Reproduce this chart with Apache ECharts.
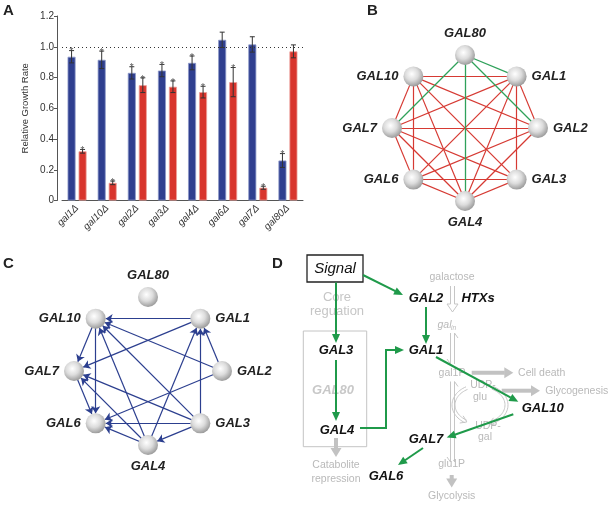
<!DOCTYPE html>
<html><head><meta charset="utf-8">
<script src="https://cdn.jsdelivr.net/npm/echarts@6/dist/echarts.min.js"></script>
<style>html,body{margin:0;padding:0;background:#fff}#c{width:611px;height:505px}</style>
</head><body><div id="c"></div>
<script>
// ================= Panel A data =================
const strains = ['gal1Δ','gal10Δ','gal2Δ','gal3Δ','gal4Δ','gal6Δ','gal7Δ','gal80Δ'];
const blueRates  = [0.935,0.915,0.83,0.845,0.895,1.045,1.015,0.26];
const blueErrors = [0.04,0.057,0.04,0.04,0.045,0.05,0.05,0.045];
const blueSignif = [1,1,1,1,1,0,0,1];
const redRates   = [0.32,0.115,0.75,0.74,0.705,0.77,0.083,0.97];
const redErrors  = [0.012,0.012,0.048,0.038,0.038,0.095,0.01,0.042];
const redSignif  = [1,1,1,1,1,1,1,0];
const yTickLabels = ['0','0.2','0.4','0.6','0.8','1.0','1.2'];
const referenceLevel = 1.0;

// ================= Panels B & C networks =================
const ringOrder = ['GAL80','GAL1','GAL2','GAL3','GAL4','GAL6','GAL7','GAL10'];
const coexpLinks = [
  ['GAL10','GAL1'],['GAL10','GAL7'],['GAL10','GAL6'],['GAL10','GAL4'],['GAL10','GAL3'],['GAL10','GAL2'],
  ['GAL1','GAL2'],['GAL1','GAL3'],['GAL1','GAL4'],['GAL1','GAL6'],['GAL1','GAL7'],
  ['GAL7','GAL2'],['GAL7','GAL6'],['GAL7','GAL4'],['GAL7','GAL3'],
  ['GAL2','GAL6'],['GAL2','GAL4'],
  ['GAL6','GAL3'],['GAL6','GAL4'],['GAL3','GAL4']
];
const gal80Links = [['GAL80','GAL1'],['GAL80','GAL2'],['GAL80','GAL7'],['GAL80','GAL4']];
const regulatoryLinks = [
  ['GAL1','GAL10'],['GAL1','GAL7'],['GAL2','GAL10'],['GAL2','GAL1'],['GAL2','GAL6'],
  ['GAL3','GAL10'],['GAL3','GAL1'],['GAL3','GAL7'],['GAL3','GAL6'],['GAL3','GAL4'],
  ['GAL4','GAL10'],['GAL4','GAL1'],['GAL4','GAL7'],['GAL4','GAL6'],
  ['GAL10','GAL7'],['GAL10','GAL6'],['GAL7','GAL6']
];

// ================= Panel D pathway (diagram text and layout) =================
const pathwayTexts = ['Signal','Core','reguation','GAL3','GAL80','GAL4','Catabolite','repression',
  'galactose','GAL2','HTXs','gal','in','GAL1','gal1P','Cell death','UDP-','glu','Glycogenesis',
  'GAL10','UDP-','gal','GAL7','glu1P','GAL6','Glycolysis'];
const pathwayTextKinds = ['signal','core','core','gene','geneGray','gene','gray','gray',
  'gray','gene','gene','grayItalic','sub','gene','gray','gray','gray','gray','gray',
  'gene','gray','gray','gene','gray','gene','gray'];
const pathwayTextLayout = [[35,19],[37,47],[37,61],[36,100],[33,140],[37,180],[36,215],[36,229],
  [152,27],[126,48],[178,48],[144.5,75],[153.5,78.5],[126,100],[152,122.7],[241.7,122.7],[183,135],[180,147.5],[276.7,140.7],
  [242.7,158],[188,176.5],[185,187],[126,189],[151.7,214.3],[86,226],[151.7,246]];
const greenArrowLayout = [
  [[36,32.5],[36,93]], [[36,110],[36,171]], [[63,25],[103,45]], [[126,57],[126,94]],
  [[60,178],[86,178],[86,100],[104,100]],
  [[136,107],[218.3,151.7]], [[213.3,164.3],[146.7,187.5]], [[123,198],[98,215]]
];
const grayArrowLayout = [
  [[171.7,122.7],[213.3,122.7]], [[201.7,140.7],[240,140.7]], [[36,188],[36,207]], [[151.7,225],[151.7,237.5]]
];
const hollowArrowLayout = [ // [x, y1, y2, kind]
  [152.5,36,62,'down'], [152.5,83,114,'both'], [152.5,131.5,212,'both']
];
const boxLayout = [ // [x1,y1,x2,y2,kind]
  [3.3,81,66.7,196.7,'gray'], [7,5,63,32,'black']
];
const cycleLayout = {cx:180, cy:155, rx:28, ry:21};

// ================= styles =================
const FONT = 'Liberation Sans, Arial, sans-serif';
const BLUE = '#2f3f8f', RED = '#d8352d', GREEN = '#1f9a4a', GRAYTXT = '#b9b9b9';
const sphere = {type:'radial', x:0.42, y:0.38, r:0.72, colorStops:[
  {offset:0,color:'#ffffff'},{offset:0.45,color:'#dcdcdc'},{offset:1,color:'#878787'}]};
const labelSide = {GAL80:'top',GAL1:'right',GAL2:'right',GAL3:'right',GAL4:'bottom',GAL6:'left',GAL7:'left',GAL10:'left'};

const BAR_W = 8, BAR_GAP = 3;
const shiftB = -(BAR_W + BAR_GAP) / 2, shiftR = (BAR_W + BAR_GAP) / 2;

function errorSeries(values, errors, signif, shift) {
  return {
    type:'custom', xAxisIndex:0, yAxisIndex:0, z:5, silent:true,
    data: values.map((v,i)=>[i, v, errors[i], signif[i]]),
    renderItem(params, api) {
      const i = api.value(0), v = api.value(1), e = api.value(2), s = api.value(3);
      const top = api.coord([i, v + e]), bot = api.coord([i, v - e]);
      const x = top[0] + shift;
      const st = {stroke:'#333', lineWidth:1};
      const ch = [
        {type:'line', shape:{x1:x,y1:top[1],x2:x,y2:bot[1]}, style:st},
        {type:'line', shape:{x1:x-2.5,y1:top[1],x2:x+2.5,y2:top[1]}, style:st},
        {type:'line', shape:{x1:x-2.5,y1:bot[1],x2:x+2.5,y2:bot[1]}, style:st}
      ];
      if (s) ch.push({type:'text', style:{text:'*', x:x, y:top[1]+2, align:'center', verticalAlign:'middle',
        fill:'#555', fontSize:10, fontFamily:FONT}});
      return {type:'group', children:ch};
    }
  };
}

function ringSeries(polarIndex, linkSets, directed) {
  const links = [];
  linkSets.forEach(([list, color, width]) => list.forEach(([s,t]) =>
    links.push({source:s, target:t, lineStyle:{color:color, width:width}})));
  return {
    type:'graph', coordinateSystem:'polar', polarIndex:polarIndex, layout:'none',
    symbol:'circle', symbolSize:20, silent:true, animation:false,
    data: ringOrder.map((g,i)=>({name:g, value:[1,i], label:{position:labelSide[g]}})),
    links: links,
    edgeSymbol: directed ? ['none','arrow'] : ['none','none'],
    edgeSymbolSize: [0,7],
    itemStyle:{color:sphere},
    label:{show:true, formatter:'{b}', fontSize:13, fontWeight:'bold', fontStyle:'italic',
      color:'#222', fontFamily:FONT, distance:5},
    lineStyle:{opacity:1, curveness:0},
    emphasis:{disabled:true}
  };
}

function arrowShapes(pts, headLen, headW, color, width) {
  const n = pts.length;
  const [x1,y1] = pts[n-2], [x2,y2] = pts[n-1];
  const dx = x2-x1, dy = y2-y1, L = Math.hypot(dx,dy), ux = dx/L, uy = dy/L;
  const bx = x2-ux*headLen, by = y2-uy*headLen;
  const linePts = pts.slice(0,n-1).concat([[bx+ux*0.5,by+uy*0.5]]);
  return [
    {type:'polyline', shape:{points:linePts}, style:{stroke:color, lineWidth:width, fill:null}},
    {type:'polygon', shape:{points:[[x2,y2],[bx-uy*headW/2, by+ux*headW/2],[bx+uy*headW/2, by-ux*headW/2]]},
      style:{fill:color}}
  ];
}

function diagramSeries(items, render, z) {
  return {type:'custom', xAxisIndex:1, yAxisIndex:1, silent:true, z:z||2, clip:false,
    data: items.map((_,i)=>[i,0]), renderItem:render};
}

const textStyles = {
  signal:{fontSize:15, fontStyle:'italic', fill:'#111'},
  core:{fontSize:13, fill:'#c6c6c6'},
  gene:{fontSize:13, fontWeight:'bold', fontStyle:'italic', fill:'#111'},
  geneGray:{fontSize:13, fontWeight:'bold', fontStyle:'italic', fill:'#c8c8c8'},
  gray:{fontSize:10.5, fill:GRAYTXT},
  grayItalic:{fontSize:10.5, fontStyle:'italic', fill:GRAYTXT},
  sub:{fontSize:6.5, fontStyle:'italic', fill:GRAYTXT}
};

const option = {
  animation:false,
  textStyle:{fontFamily:FONT},
  title:[
    {text:'A', left:3, top:3, padding:0, textStyle:{fontSize:15, fontWeight:'bold', color:'#222', fontFamily:FONT}},
    {text:'B', left:367, top:3, padding:0, textStyle:{fontSize:15, fontWeight:'bold', color:'#222', fontFamily:FONT}},
    {text:'C', left:3, top:256, padding:0, textStyle:{fontSize:15, fontWeight:'bold', color:'#222', fontFamily:FONT}},
    {text:'D', left:272, top:256, padding:0, textStyle:{fontSize:15, fontWeight:'bold', color:'#222', fontFamily:FONT}}
  ],
  grid:[
    {left:62, top:16, width:241, height:184.5},
    {left:300, top:250, width:311, height:255}
  ],
  xAxis:[
    {gridIndex:0, type:'category', data:strains,
      axisLine:{lineStyle:{color:'#555', width:1}}, axisTick:{show:false},
      axisLabel:{rotate:45, interval:0, fontSize:10, fontStyle:'italic', color:'#333', margin:6, fontFamily:FONT}},
    {gridIndex:1, type:'value', min:0, max:311, show:false}
  ],
  yAxis:[
    {gridIndex:0, type:'value', min:0, max:1.2, interval:0.2, offset:5,
      name:'Relative Growth Rate', nameLocation:'middle', nameGap:27,
      nameTextStyle:{fontSize:9.5, color:'#333', fontFamily:FONT},
      axisLine:{show:true, lineStyle:{color:'#555', width:1}},
      axisTick:{show:true, length:3, lineStyle:{color:'#555'}},
      axisLabel:{fontSize:10, color:'#333', margin:3, fontFamily:FONT,
        formatter:(v)=>yTickLabels[Math.round(v/0.2)]},
      splitLine:{show:false}},
    {gridIndex:1, type:'value', min:0, max:255, inverse:true, show:false}
  ],
  polar:[{center:[465,128], radius:73}, {center:[148,371], radius:74}],
  angleAxis:[
    {polarIndex:0, type:'value', min:0, max:8, startAngle:90, clockwise:true, show:false},
    {polarIndex:1, type:'value', min:0, max:8, startAngle:90, clockwise:true, show:false}
  ],
  radiusAxis:[
    {polarIndex:0, type:'value', min:0, max:1, show:false},
    {polarIndex:1, type:'value', min:0, max:1, show:false}
  ],
  series:[
    {type:'bar', xAxisIndex:0, yAxisIndex:0, data:blueRates, barWidth:BAR_W, barGap:(BAR_GAP/BAR_W*100)+'%',
      silent:true, itemStyle:{color:BLUE, borderColor:'#8d99c9', borderWidth:0.8},
      markLine:{silent:true, symbol:['none','none'], label:{show:false},
        lineStyle:{type:[1,3], color:'#333', width:1}, data:[{yAxis:referenceLevel}]}},
    {type:'bar', xAxisIndex:0, yAxisIndex:0, data:redRates, barWidth:BAR_W, silent:true,
      itemStyle:{color:RED, borderColor:'#eda29c', borderWidth:0.8}},
    errorSeries(blueRates, blueErrors, blueSignif, shiftB),
    errorSeries(redRates, redErrors, redSignif, shiftR),

    ringSeries(0, [[coexpLinks, '#d63a33', 1.2], [gal80Links, '#2fa15a', 1.3]], false),
    ringSeries(1, [[regulatoryLinks, '#2c3f8f', 1.2]], true),

    // Panel D
    diagramSeries(boxLayout, (p, api) => {
      const b = boxLayout[p.dataIndex];
      const a = api.coord([b[0],b[1]]), c = api.coord([b[2],b[3]]);
      return {type:'rect', shape:{x:a[0], y:a[1], width:c[0]-a[0], height:c[1]-a[1]},
        style: b[4]==='black' ? {fill:'#fff', stroke:'#222', lineWidth:1.3} : {fill:null, stroke:'#c4c4c4', lineWidth:1}};
    }, 1),
    diagramSeries(pathwayTexts, (p, api) => {
      const i = p.dataIndex, pos = api.coord(pathwayTextLayout[i]);
      const k = textStyles[pathwayTextKinds[i]];
      return {type:'text', style:Object.assign({text:pathwayTexts[i], x:pos[0], y:pos[1], align:'center',
        verticalAlign:'middle', fontFamily:FONT}, k)};
    }, 3),
    diagramSeries(hollowArrowLayout, (p, api) => {
      const [x, y1, y2, kind] = hollowArrowLayout[p.dataIndex];
      const P = (a,b) => api.coord([a,b]);
      const st = {stroke:'#c6c6c6', lineWidth:1, fill:null};
      if (kind === 'down') {
        return {type:'polyline', shape:{points:[P(x-2,y1),P(x-2,y2-8),P(x-5.5,y2-8),P(x,y2),P(x+5.5,y2-8),P(x+2,y2-8),P(x+2,y1)]}, style:st};
      }
      return {type:'group', children:[
        {type:'polyline', shape:{points:[P(x+2,y2),P(x+2,y1),P(x+5.5,y1+5)]}, style:st},
        {type:'polyline', shape:{points:[P(x-2,y1),P(x-2,y2),P(x-5.5,y2-5)]}, style:st}
      ]};
    }, 2),
    diagramSeries([0,1], (p, api) => {
      const {cx, cy, rx, ry} = cycleLayout;
      const arcs = p.dataIndex === 0 ? [240, 122] : [-62, 68];
      const ch = [];
      [[rx, ry], [rx-3, ry-3]].forEach(([a, b]) => {
        const pts = [];
        const n = 30;
        for (let k = 0; k <= n; k++) {
          const t = (arcs[0] + (arcs[1]-arcs[0]) * k / n) * Math.PI / 180;
          pts.push(api.coord([cx + a*Math.cos(t), cy + b*Math.sin(t)]));
        }
        ch.push({type:'polyline', shape:{points:pts}, style:{stroke:'#c6c6c6', lineWidth:1, fill:null}});
      });
      const t = arcs[1]*Math.PI/180, sgn = arcs[1] > arcs[0] ? 1 : -1;
      const e = api.coord([cx + (rx-1.5)*Math.cos(t), cy + (ry-1.5)*Math.sin(t)]);
      const dir = [-Math.sin(t)*rx*sgn, Math.cos(t)*ry*sgn];
      const L = Math.hypot(dir[0],dir[1]); const ux = dir[0]/L, uy = dir[1]/L;
      ch.push({type:'polyline', shape:{points:[[e[0]-ux*5-uy*4, e[1]-uy*5+ux*4],[e[0]+ux*1,e[1]+uy*1],[e[0]-ux*5+uy*4, e[1]-uy*5-ux*4]]},
        style:{stroke:'#c6c6c6', lineWidth:1, fill:null}});
      return {type:'group', children:ch};
    }, 2),
    diagramSeries(grayArrowLayout, (p, api) => ({type:'group',
      children: arrowShapes(grayArrowLayout[p.dataIndex].map(q=>api.coord(q)), 9, 11, '#c2c2c2', 4)}), 2),
    diagramSeries(greenArrowLayout, (p, api) => ({type:'group',
      children: arrowShapes(greenArrowLayout[p.dataIndex].map(q=>api.coord(q)), 9, 8, GREEN, 2)}), 4)
  ]
};

const chart = echarts.init(document.getElementById('c'), null, {renderer:'canvas'});
chart.setOption(option);
</script></body></html>
